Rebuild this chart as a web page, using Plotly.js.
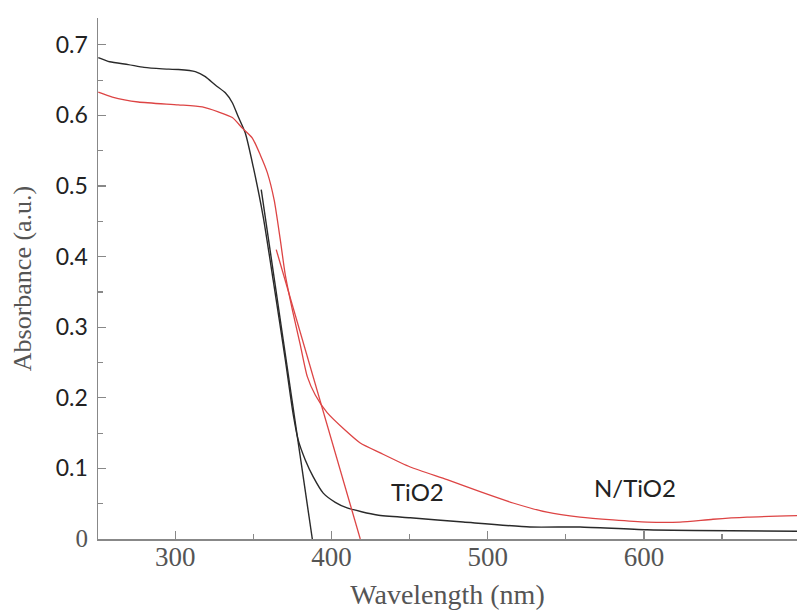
<!DOCTYPE html>
<html>
<head>
<meta charset="utf-8">
<script src="https://cdn.plot.ly/plotly-3.0.1.min.js"></script>
<style>html,body{margin:0;padding:0;background:#fff;}#chart{width:797px;height:610px;}</style>
</head>
<body>
<div id="chart"></div>
<script>
// TiO2 absorbance spectrum
const tio2Wavelength = [250.7, 258.0, 269.9, 280.0, 291.7, 302.0, 312.8, 319.2, 325.6, 332.0, 336.5, 340.3, 344.8, 349.9, 356.3, 362.7, 370.4, 375.5, 378.7, 383.2, 388.3, 394.7, 402.4, 410.0, 429.2, 450.4, 484.3, 527.1, 559.1, 602.0, 698.0];
const tio2Absorbance = [0.682, 0.676, 0.672, 0.668, 0.666, 0.665, 0.662, 0.655, 0.643, 0.632, 0.618, 0.598, 0.575, 0.527, 0.456, 0.366, 0.254, 0.176, 0.140, 0.112, 0.088, 0.065, 0.052, 0.044, 0.034, 0.030, 0.024, 0.017, 0.017, 0.013, 0.011];
// N/TiO2 absorbance spectrum
const ntio2Wavelength = [250.7, 259.7, 276.3, 301.9, 317.3, 327.5, 336.5, 342.9, 349.3, 354.4, 358.9, 363.3, 367.2, 370.4, 374.9, 380.0, 384.5, 389.6, 397.2, 408.8, 418.4, 431.2, 450.4, 474.0, 495.1, 516.2, 538.0, 559.1, 580.2, 602.0, 623.1, 644.2, 666.0, 698.0];
const ntio2Absorbance = [0.633, 0.626, 0.619, 0.615, 0.612, 0.605, 0.597, 0.582, 0.568, 0.544, 0.519, 0.480, 0.424, 0.374, 0.325, 0.275, 0.230, 0.204, 0.179, 0.154, 0.136, 0.122, 0.102, 0.084, 0.067, 0.051, 0.038, 0.031, 0.027, 0.024, 0.024, 0.028, 0.031, 0.033];
// Band-edge tangent lines
const tio2TangentX = [355.0, 387.7];
const tio2TangentY = [0.495, 0.0];
const ntio2TangentX = [364.6, 418.4];
const ntio2TangentY = [0.41, 0.0];
// Tick labels
const yTickVals = [0, 0.1, 0.2, 0.3, 0.4, 0.5, 0.6, 0.7];
const yTickText = ['<span style="font-family:Liberation Serif;font-size:25px;fill:#555">0</span>', '0.1', '0.2', '0.3', '0.4', '0.5', '0.6', '0.7'];
const xTickVals = [300, 400, 500, 600];
const xTickText = ['300', '400', '500', '600'];

const black = '#2a2a2a';
const red = '#dd4444';

const traces = [
  {x: tio2Wavelength, y: tio2Absorbance, mode: 'lines', line: {color: black, width: 1.4, shape: 'spline', smoothing: 0.6}, name: 'TiO2'},
  {x: ntio2Wavelength, y: ntio2Absorbance, mode: 'lines', line: {color: red, width: 1.3, shape: 'spline', smoothing: 0.6}, name: 'N/TiO2'},
  {x: tio2TangentX, y: tio2TangentY, mode: 'lines', line: {color: black, width: 1.4}, name: 'TiO2 edge'},
  {x: ntio2TangentX, y: ntio2TangentY, mode: 'lines', line: {color: red, width: 1.3}, name: 'N/TiO2 edge'}
];

const layout = {
  width: 797, height: 610,
  margin: {l: 98, r: 0, t: 18, b: 71},
  paper_bgcolor: '#fff', plot_bgcolor: '#fff',
  showlegend: false,
  xaxis: {
    range: [250.5, 698], showgrid: false, zeroline: false,
    showline: true, linecolor: '#888', linewidth: 1.5,
    ticks: 'inside', ticklen: 8, tickcolor: '#888', tickwidth: 1.2,
    tickvals: xTickVals, ticktext: xTickText,
    tickfont: {family: 'Liberation Serif, serif', size: 27, color: '#555'},
    ticklabelstandoff: -7,
    minor: {dtick: 50, tick0: 250, ticks: 'inside', ticklen: 5, tickcolor: '#888', tickwidth: 1.2},
    title: {text: 'Wavelength (nm)', font: {family: 'Liberation Serif, serif', size: 28, color: '#555'}, standoff: 15}
  },
  yaxis: {
    range: [0, 0.738], showgrid: false, zeroline: false,
    showline: true, linecolor: '#888', linewidth: 1.5,
    ticks: 'inside', ticklen: 8, tickcolor: '#888', tickwidth: 1.2,
    tickvals: yTickVals, ticktext: yTickText,
    tickfont: {family: 'Lato, Open Sans, sans-serif', size: 23, color: '#222'},
    ticklabelstandoff: 4,
    minor: {dtick: 0.05, tick0: 0, ticks: 'inside', ticklen: 5, tickcolor: '#888', tickwidth: 1.2},
    title: {text: 'Absorbance (a.u.)', font: {family: 'Liberation Serif, serif', size: 26, color: '#555'}, standoff: 16}
  },
  annotations: [
    {x: 454.8, y: 0.0666, xref: 'x', yref: 'y', text: 'TiO2', showarrow: false, font: {family: 'Lato, Open Sans, sans-serif', size: 24, color: '#222'}},
    {x: 594.3, y: 0.0723, xref: 'x', yref: 'y', text: 'N/TiO2', showarrow: false, font: {family: 'Lato, Open Sans, sans-serif', size: 24, color: '#222'}}
  ]
};

Plotly.newPlot('chart', traces, layout, {displayModeBar: false, staticPlot: true});
</script>
</body>
</html>
